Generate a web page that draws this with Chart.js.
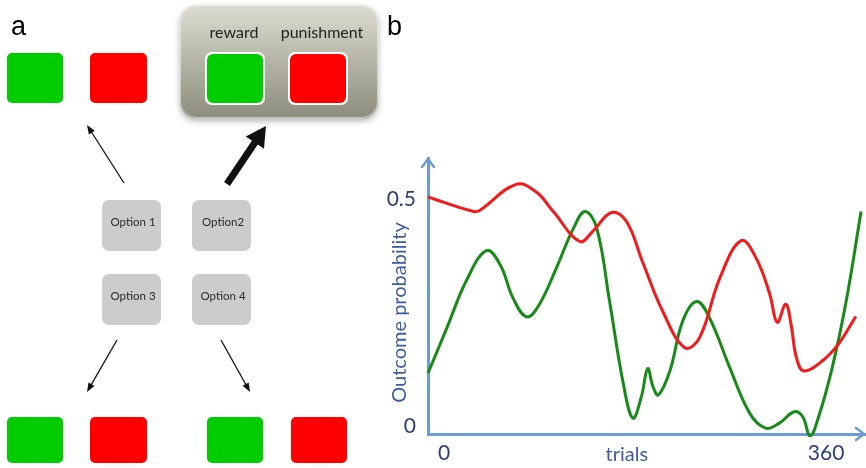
<!DOCTYPE html>
<html>
<head>
<meta charset="utf-8">
<script src="https://cdn.jsdelivr.net/npm/chart.js@4"></script>
<style>
  html, body { margin: 0; padding: 0; background: #fff; }
  #wrap { width: 866px; height: 468px; position: relative; }
</style>
</head>
<body>
<div id="wrap"><canvas id="chart"></canvas></div>
<script>
// panel b data
const redTrials = [0, 43, 49, 83, 102, 118, 143, 155, 173, 187, 202, 221, 242, 256, 275, 295, 309, 322, 329, 337, 342, 347, 354, 372, 387, 403]
const redValues = [0.504, 0.472, 0.475, 0.532, 0.515, 0.472, 0.406, 0.428, 0.470, 0.450, 0.362, 0.253, 0.172, 0.195, 0.326, 0.408, 0.370, 0.290, 0.228, 0.268, 0.224, 0.151, 0.121, 0.144, 0.181, 0.241]
const greenTrials = [0, 18, 36, 55, 68, 80, 93, 105, 121, 137, 148, 159, 171, 184, 193, 201, 207, 212, 217, 228, 240, 253, 265, 284, 303, 318, 331, 345, 353, 360, 368, 381, 394, 408]
const greenValues = [0.116, 0.217, 0.319, 0.386, 0.355, 0.282, 0.240, 0.268, 0.348, 0.435, 0.472, 0.435, 0.275, 0.093, 0.017, 0.064, 0.126, 0.086, 0.068, 0.122, 0.231, 0.274, 0.239, 0.130, 0.028, -0.005, 0.006, 0.031, 0.020, -0.022, 0.020, 0.130, 0.275, 0.472]
const xTicks = [0, 360]
const yTicks = [0, 0.5]
const yTickLabels = ['0', '0.5']
const xTitle = 'trials'
const yTitle = 'Outcome probability'

// panel a texts
const optionLabels = ['Option 1', 'Option2', 'Option 3', 'Option 4']
const outcomeLabels = ['reward', 'punishment']

const axisColor = '#6b9bd2'
const tickColor = '#293d7a'
const titleColor = '#3d5ca3'
const GREEN = '#00cc00'
const RED = '#ff0000'

function arrow(ctx, x1, y1, x2, y2, w, hl, hw) {
  const a = Math.atan2(y2 - y1, x2 - x1)
  const len = Math.hypot(x2 - x1, y2 - y1)
  ctx.save()
  ctx.translate(x1, y1)
  ctx.rotate(a)
  ctx.fillStyle = '#111'
  ctx.fillRect(0, -w / 2, len - hl + 1, w)
  ctx.beginPath()
  ctx.moveTo(len, 0)
  ctx.lineTo(len - hl, -hw / 2)
  ctx.lineTo(len - hl, hw / 2)
  ctx.closePath()
  ctx.fill()
  ctx.restore()
}

function box(ctx, x, y, w, h, r, fill) {
  ctx.beginPath()
  ctx.roundRect(x, y, w, h, r)
  ctx.fillStyle = fill
  ctx.fill()
}

const panelA = {
  id: 'panelA',
  afterDraw(chart) {
    const ctx = chart.ctx
    ctx.save()
    ctx.fillStyle = '#000'
    ctx.font = '27px "Liberation Sans", Arial, sans-serif'
    ctx.textBaseline = 'alphabetic'
    ctx.textAlign = 'left'
    ctx.fillText('a', 11, 35)
    ctx.fillText('b', 387, 35)

    // outcome squares top-left and bottom
    box(ctx, 7, 53, 56, 50, 5, GREEN)
    box(ctx, 90, 53, 57, 50, 5, RED)
    box(ctx, 7, 417, 56, 46, 5, GREEN)
    box(ctx, 90, 417, 57, 46, 5, RED)
    box(ctx, 207, 417, 56, 46, 5, GREEN)
    box(ctx, 291, 417, 56, 46, 5, RED)

    // highlighted outcome box
    ctx.save()
    ctx.shadowColor = 'rgba(0,0,0,0.3)'
    ctx.shadowBlur = 6
    ctx.shadowOffsetY = 3
    const g = ctx.createLinearGradient(0, 5, 0, 118)
    g.addColorStop(0, '#dcddd0')
    g.addColorStop(1, '#8d8d7d')
    box(ctx, 180, 5, 198, 113, 16, g)
    ctx.restore()
    ctx.strokeStyle = 'rgba(255,255,255,0.5)'
    ctx.lineWidth = 1
    ctx.beginPath()
    ctx.roundRect(180.5, 5.5, 197, 112, 16)
    ctx.stroke()

    ctx.fillStyle = '#222'
    ctx.font = '16px Lato, sans-serif'
    ctx.textAlign = 'center'
    ctx.textBaseline = 'middle'
    ctx.fillText(outcomeLabels[0], 234, 33)
    ctx.fillText(outcomeLabels[1], 322, 33)

    for (const [x, c] of [[205, GREEN], [288, RED]]) {
      box(ctx, x, 52, 60, 53, 7, '#fff')
      box(ctx, x + 2, 54, 56, 49, 6, c)
    }

    // option boxes
    const opts = [[102, 200], [192, 200], [102, 274], [192, 274]]
    ctx.font = '11.5px Lato, sans-serif'
    opts.forEach(([x, y], i) => {
      box(ctx, x, y, 59, 51, 7, '#cccccc')
      ctx.fillStyle = '#2a2a2a'
      ctx.fillText(optionLabels[i], x + 31, y + 22)
    })

    // arrows
    arrow(ctx, 124, 183, 87, 125, 1.3, 9, 7)
    arrow(ctx, 227, 184, 266, 126, 7, 20, 22)
    arrow(ctx, 117, 340, 87, 392, 1.3, 9, 7)
    arrow(ctx, 221, 340, 250, 392, 1.3, 9, 7)
    ctx.restore()
  }
}

const axisArrows = {
  id: 'axisArrows',
  afterDraw(chart) {
    const { left, right, top, bottom } = chart.chartArea
    const ctx = chart.ctx
    ctx.save()
    ctx.strokeStyle = axisColor
    ctx.lineWidth = 2.5
    ctx.lineCap = 'round'
    ctx.lineJoin = 'round'
    ctx.beginPath()
    ctx.moveTo(left - 6, top + 9)
    ctx.lineTo(left, top + 1)
    ctx.lineTo(left + 6, top + 9)
    ctx.moveTo(right - 9, bottom - 6)
    ctx.lineTo(right - 1, bottom)
    ctx.lineTo(right - 9, bottom + 6)
    ctx.stroke()

    // axis titles
    ctx.fillStyle = titleColor
    ctx.font = '20px Lato, sans-serif'
    ctx.textAlign = 'center'
    ctx.textBaseline = 'middle'
    ctx.fillText(xTitle, left + 0.455 * (right - left), bottom + 21)
    ctx.translate(left - 28, top + 0.56 * (bottom - top))
    ctx.rotate(-Math.PI / 2)
    ctx.fillText(yTitle, 0, 0)
    ctx.restore()
  }
}

const toPoints = (xs, ys) => xs.map((x, i) => ({ x: x, y: ys[i] }))

new Chart(document.getElementById('chart'), {
  type: 'line',
  data: {
    datasets: [{
      label: 'punishment',
      data: toPoints(redTrials, redValues),
      borderColor: '#f21a1a',
      borderWidth: 3,
      pointRadius: 0,
      tension: 0.4,
      clip: 6
    }, {
      label: 'reward',
      data: toPoints(greenTrials, greenValues),
      borderColor: '#178a17',
      borderWidth: 3,
      pointRadius: 0,
      tension: 0.4,
      clip: 6
    }]
  },
  options: {
    responsive: true,
    maintainAspectRatio: false,
    animation: false,
    devicePixelRatio: 1,
    layout: { padding: { left: 380, right: 1, top: 158, bottom: 0 } },
    plugins: { legend: { display: false }, tooltip: { enabled: false } },
    scales: {
      x: {
        type: 'linear',
        min: 0,
        max: 411.7,
        afterBuildTicks: (scale) => { scale.ticks = xTicks.map(v => ({ value: v })) },
        afterFit: (scale) => { scale.height = 34 },
        grid: { drawOnChartArea: false, drawTicks: false },
        border: { display: true, color: axisColor, width: 3 },
        ticks: {
          color: tickColor,
          padding: 7,
          labelOffset: 16,
          font: { family: 'Lato', size: 21 },
          callback: (v) => String(v)
        }
      },
      y: {
        min: -0.018,
        max: 0.59,
        afterBuildTicks: (scale) => { scale.ticks = yTicks.map(v => ({ value: v })) },
        afterFit: (scale) => { scale.width = 48 },
        grid: { drawOnChartArea: false, drawTicks: false },
        border: { display: true, color: axisColor, width: 3 },
        ticks: {
          color: tickColor,
          padding: 12,
          font: { family: 'Lato', size: 21 },
          callback: (v) => yTickLabels[yTicks.indexOf(v)]
        }
      }
    }
  },
  plugins: [panelA, axisArrows]
})
</script>
</body>
</html>
